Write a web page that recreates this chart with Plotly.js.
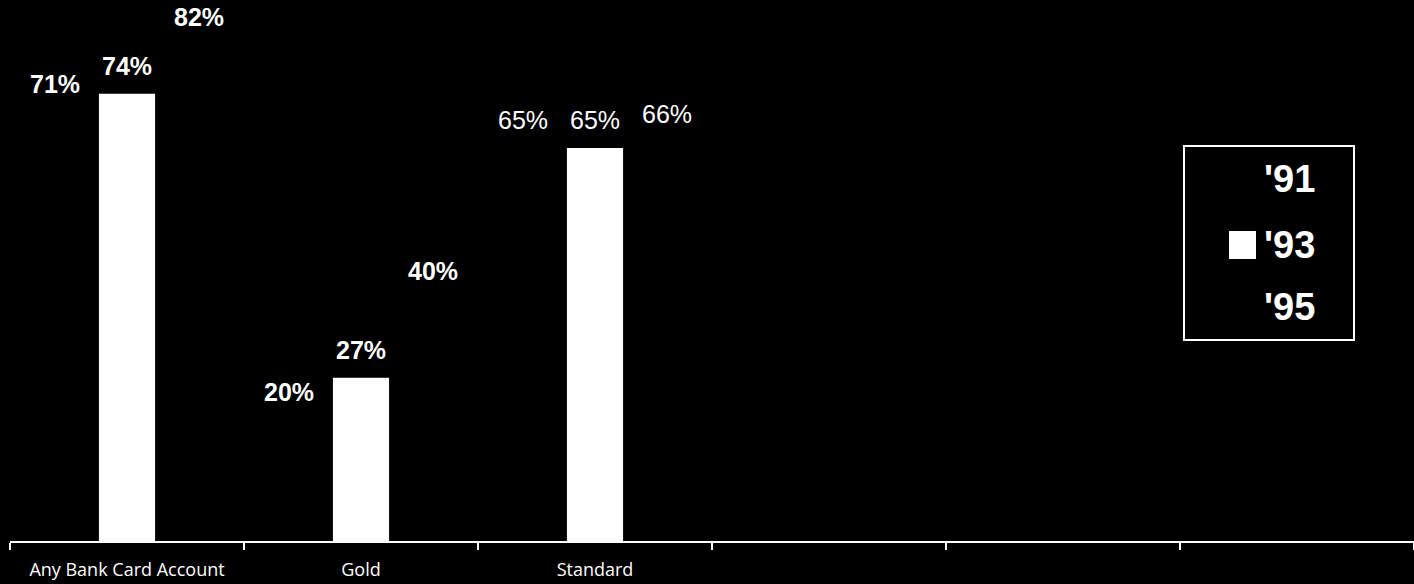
<!DOCTYPE html>
<html>
<head>
<meta charset="utf-8">
<script src="https://cdn.plot.ly/plotly-3.0.1.min.js"></script>
<style>
  html, body { margin: 0; padding: 0; background: #000; }
  #chart { width: 1414px; height: 584px; }
</style>
</head>
<body>
<div id="chart"></div>
<script>
// Bank card ownership, share of respondents by survey year
const categories = ['Any Bank Card Account', 'Gold', 'Standard'];
const seriesNames = ["'91", "'93", "'95"];
const values91 = [71, 20, 65];
const values93 = [74, 27, 65];
const values95 = [82, 40, 66];

// ---- layout constants ----
const W = 1414, H = 584;
const margin = { l: 10, r: 0, t: 9, b: 43 };
const BARGAP = 0.077, GROUPGAP = 0.22;
const SLOTS = 6;                      // axis spans six category widths
const seriesColors = ['#000000', '#ffffff', '#000000'];
const labelWeight = [700, 700, 400];  // per category group
const LABEL_FONT = 'Liberation Sans, Arial, sans-serif';

const series = [values91, values93, values95];
const xIdx = categories.map((_, i) => i);

const traces = series.map((vals, s) => ({
  type: 'bar',
  name: seriesNames[s],
  x: xIdx,
  y: vals,
  marker: { color: seriesColors[s], line: { width: 0 } },
  hoverinfo: 'skip',
  showlegend: false
}));

// value labels above each bar
const slot = (1 - BARGAP) / series.length;
const annotations = [];
series.forEach((vals, s) => {
  vals.forEach((v, i) => {
    annotations.push({
      xref: 'x', yref: 'y',
      x: i + (s - (series.length - 1) / 2) * slot,
      y: v,
      text: v + '%',
      showarrow: false,
      yanchor: 'bottom',
      yshift: 12,
      font: { family: LABEL_FONT, size: 25, color: '#ffffff', weight: labelWeight[i] }
    });
  });
});

// legend box drawn in paper space from pixel positions
const plotW = W - margin.l - margin.r;
const plotH = H - margin.t - margin.b;
const px = x => (x - margin.l) / plotW;
const py = y => (H - margin.b - y) / plotH;

const shapes = [{
  type: 'rect', xref: 'paper', yref: 'paper',
  x0: px(1184), x1: px(1354), y0: py(340), y1: py(146),
  line: { color: '#ffffff', width: 2 }, fillcolor: 'rgba(0,0,0,0)'
}];
const rowY = [179, 245, 307];
seriesNames.forEach((name, s) => {
  shapes.push({
    type: 'rect', xref: 'paper', yref: 'paper',
    x0: px(1229), x1: px(1256), y0: py(rowY[s] + 14), y1: py(rowY[s] - 14),
    line: { width: 0 }, fillcolor: seriesColors[s]
  });
  annotations.push({
    xref: 'paper', yref: 'paper',
    x: px(1262), y: py(rowY[s]),
    xanchor: 'left', yanchor: 'middle',
    text: name, showarrow: false,
    font: { family: LABEL_FONT, size: 38, color: '#ffffff', weight: 700 }
  });
});

const layout = {
  width: W, height: H,
  margin: margin,
  paper_bgcolor: '#000000',
  plot_bgcolor: '#000000',
  barmode: 'group',
  bargap: BARGAP,
  bargroupgap: GROUPGAP,
  showlegend: false,
  xaxis: {
    type: 'linear',
    range: [-0.5, SLOTS - 0.5],
    tickmode: 'array',
    tickvals: xIdx,
    ticktext: categories,
    ticks: '',
    showgrid: false,
    zeroline: false,
    showline: true,
    linecolor: '#ffffff',
    linewidth: 2,
    ticklabelstandoff: 11,
    tickfont: { family: 'Open Sans, sans-serif', size: 18, color: '#ffffff' },
    minor: {
      tickmode: 'array',
      tickvals: Array.from({ length: SLOTS + 1 }, (_, k) => k - 0.5),
      ticks: 'outside', ticklen: 7, tickwidth: 2, tickcolor: '#ffffff',
      showgrid: false
    },
    fixedrange: true
  },
  yaxis: {
    range: [0, 88],
    visible: false,
    showgrid: false,
    zeroline: false,
    fixedrange: true
  },
  annotations: annotations,
  shapes: shapes
};

Plotly.newPlot('chart', traces, layout, { displayModeBar: false, staticPlot: true });
</script>
</body>
</html>
